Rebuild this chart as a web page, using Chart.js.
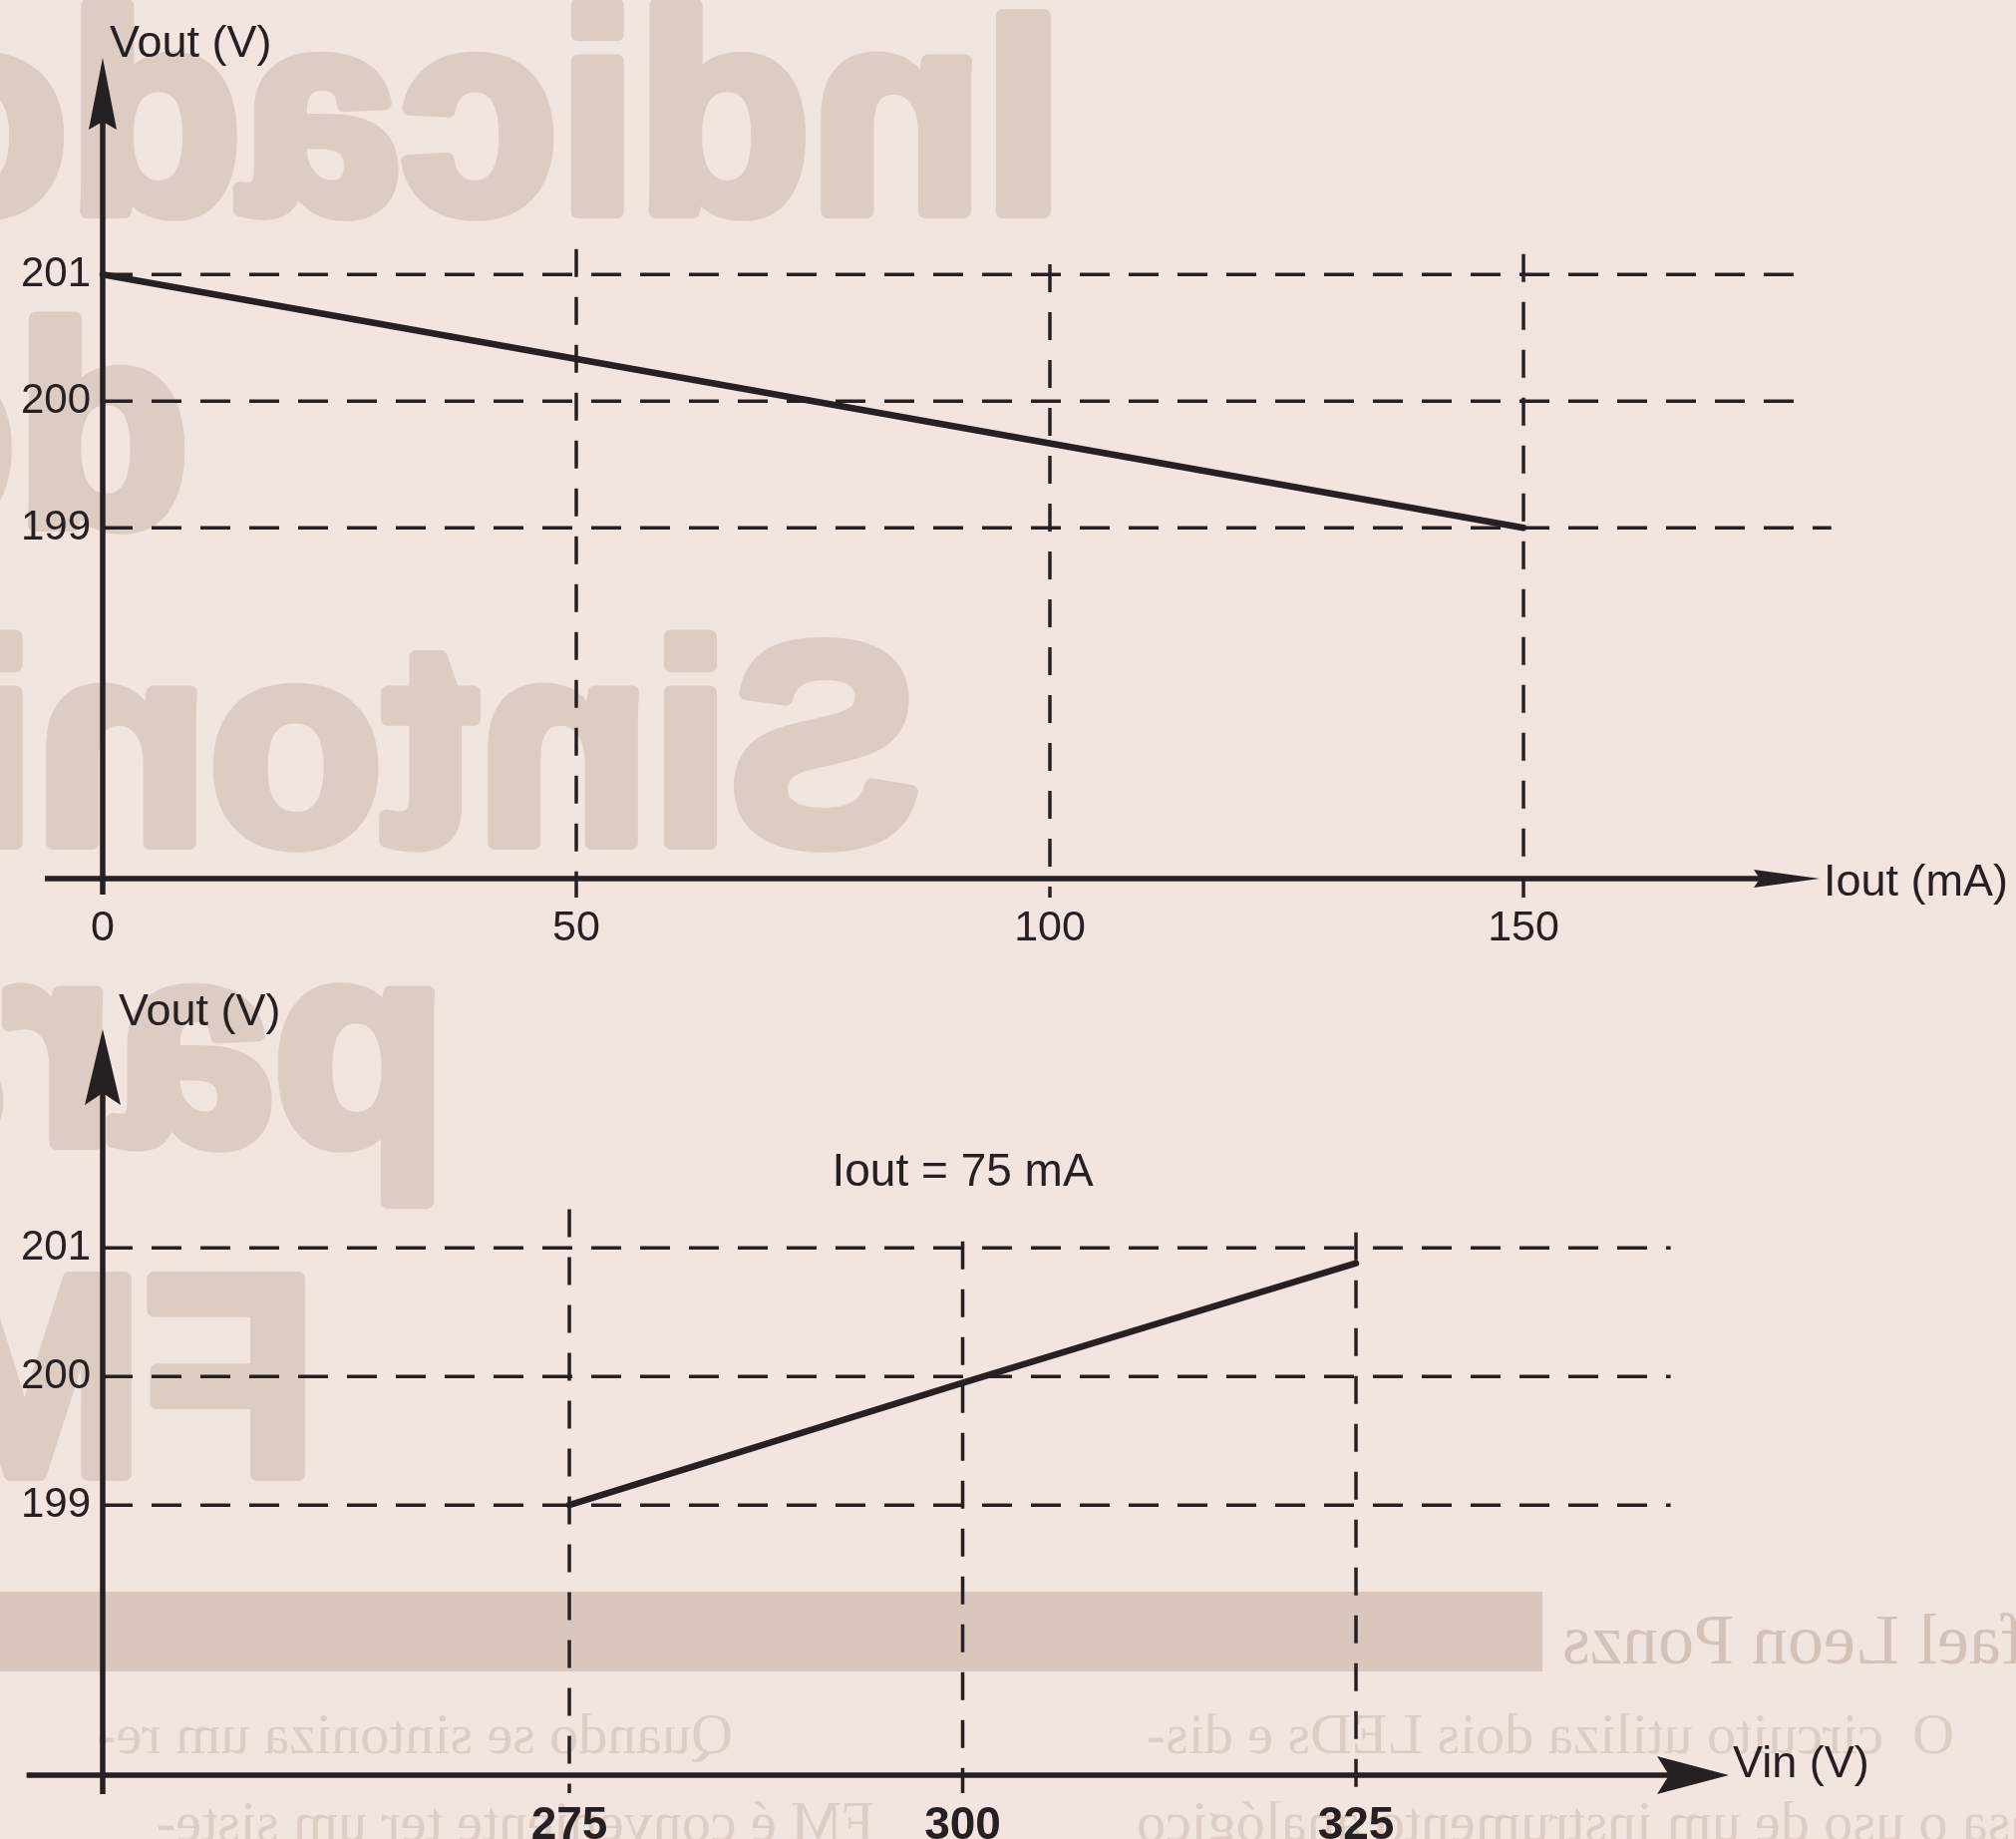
<!DOCTYPE html>
<html>
<head>
<meta charset="utf-8">
<title>Vout x Iout / Vout x Vin</title>
<script src="https://cdn.jsdelivr.net/npm/chart.js@4.4.1/dist/chart.umd.min.js"></script>
<style>
  html, body { margin: 0; padding: 0; }
  body {
    width: 2022px; height: 1844px; overflow: hidden; position: relative;
    background: #f2e4df;
    font-family: "Liberation Sans", Arial, Helvetica, sans-serif;
  }
  #ghost   { position: absolute; left: 0; top: 0; }
  .panel   { position: absolute; left: 0; width: 2022px; }
  #topWrap { top: 0;     height: 960px; }
  #botWrap { top: 960px; height: 884px; }
</style>
</head>
<body>
<canvas id="ghost" width="2022" height="1844"></canvas>
<div class="panel" id="topWrap"><canvas id="topChart"></canvas></div>
<div class="panel" id="botWrap"><canvas id="botChart"></canvas></div>

<script>
/* ── Top graph: Vout against load current ─────────────────── */
const ioutMa     = [0, 150];
const voutLoad   = [201, 199];
const ioutTicks  = [0, 50, 100, 150];
const voutTicksA = [199, 200, 201];

/* ── Bottom graph: Vout against input voltage (Iout = 75 mA) ─ */
const vinV       = [275, 300, 325];
const voutLine   = [199.0, 199.95, 200.88];
const vinTicks   = [275, 300, 325];
const voutTicksB = [199, 200, 201];

const INK  = '#262022';
const FONT = '"Liberation Sans", Arial, Helvetica, sans-serif';

/* ── Paper show-through from the back page (decoration only) ─ */
function drawGhost() {
  const ctx = document.getElementById('ghost').getContext('2d');

  // mirrored word; anchor = screen x of the word's first letter (right side)
  function mirrored(text, anchor, base, font, color, thick, fromEnd) {
    ctx.save();
    ctx.translate(anchor, 0);
    ctx.scale(-1, 1);
    ctx.font = font;
    ctx.fillStyle = color;
    ctx.strokeStyle = color;
    ctx.lineJoin = 'round';
    ctx.textBaseline = 'alphabetic';
    ctx.textAlign = fromEnd ? 'right' : 'left';
    ctx.fillText(text, 0, base);
    if (thick) { ctx.lineWidth = thick; ctx.strokeText(text, 0, base); }
    ctx.restore();
  }

  const big = 'bold 285px "Liberation Sans", Arial, sans-serif';
  const gc  = '#ddccc4';
  mirrored('Indicador', 1066, 212,  big, gc, 14);
  mirrored('de',        190,  526,  big, gc, 14);
  mirrored('Sintonia',  922,  845,  big, gc, 14);
  mirrored('para',      448,  1146, big, gc, 14);
  mirrored('FM',        318,  1478, big, gc, 14);

  // grey band of the byline
  ctx.fillStyle = '#d9c6bd';
  ctx.fillRect(0, 1596, 1547, 80);

  const serif = '72px "Liberation Serif", "DejaVu Serif", serif';
  mirrored('Rafael Leon Ponzs', 1567, 1668, serif, '#d4c1b8', 0, true);

  const body = '58px "Liberation Serif", "DejaVu Serif", serif';
  const bc   = '#ddcdc5';
  mirrored('O  circuito utiliza dois LEDs e dis-',    1960, 1758, body, bc, 0);
  mirrored('Quando se sintoniza um re-',              735,  1758, body, bc, 0);
  mirrored('pensa o uso de um instrumento analógico', 2100, 1846, body, bc, 0);
  mirrored('FM é conveniente ter um siste-',           877,  1846, body, bc, 0);
}

/* ── Arrowhead helper ─────────────────────────────────────── */
function arrowHead(ctx, tx, ty, dir, a) {
  ctx.beginPath();
  if (dir === 'up') {
    ctx.moveTo(tx, ty);
    ctx.lineTo(tx + a.half, ty + a.len);
    ctx.lineTo(tx, ty + a.len - a.notch);
    ctx.lineTo(tx - a.half, ty + a.len);
  } else {
    ctx.moveTo(tx, ty);
    ctx.lineTo(tx - a.len, ty - a.half);
    ctx.lineTo(tx - a.len + a.notch, ty);
    ctx.lineTo(tx - a.len, ty + a.half);
  }
  ctx.closePath();
  ctx.fill();
}

/* ── Axes, ticks and titles drawn through the chart scales ── */
function axesPlugin(g) {
  return {
    id: 'axes_' + g.key,
    afterDatasetsDraw(chart) {
      const { ctx, scales: { x, y } } = chart;
      const ox   = x.getPixelForValue(g.xMin);
      const oy   = y.getPixelForValue(g.yMin);
      const xTip = x.getPixelForValue(g.xMax);
      const yTip = y.getPixelForValue(g.yMax);

      ctx.save();
      ctx.strokeStyle = INK;
      ctx.fillStyle = INK;
      ctx.lineWidth = 5.5;

      // x axis (runs a little left of the origin)
      ctx.beginPath();
      ctx.moveTo(x.getPixelForValue(g.xAxisStart), oy);
      ctx.lineTo(xTip - g.xArrow.len + g.xArrow.notch, oy);
      ctx.stroke();
      arrowHead(ctx, xTip, oy, 'right', g.xArrow);

      // y axis (runs a little below the x axis)
      ctx.beginPath();
      ctx.moveTo(ox, oy + g.yAxisOver);
      ctx.lineTo(ox, yTip + g.yArrow.len - g.yArrow.notch);
      ctx.stroke();
      arrowHead(ctx, ox, yTip, 'up', g.yArrow);

      // y tick labels
      ctx.font = g.yTickFont;
      ctx.textAlign = 'right';
      ctx.textBaseline = 'middle';
      g.yTicks.forEach(v => ctx.fillText(String(v), ox - 12, y.getPixelForValue(v)));

      // x tick labels
      ctx.font = g.xTickFont;
      ctx.textAlign = 'center';
      g.xTicks.forEach(t => ctx.fillText(String(t), x.getPixelForValue(t), oy + g.xTickGap));

      // axis titles
      ctx.font = '45px ' + FONT;
      ctx.textAlign = 'left';
      ctx.fillText(g.yTitle, ox + g.yTitleOff[0], yTip + g.yTitleOff[1]);
      ctx.fillText(g.xTitle, xTip + g.xTitleOff[0], oy + g.xTitleOff[1]);

      // optional note
      if (g.note) {
        ctx.font = '46px ' + FONT;
        ctx.textAlign = 'center';
        ctx.fillText(g.note.text, x.getPixelForValue(g.note.x), y.getPixelForValue(g.note.y));
      }
      ctx.restore();
    }
  };
}

/* ── Build one graph ──────────────────────────────────────── */
function makeGraph(canvasId, g) {
  const dash = { borderColor: INK, borderWidth: 3.5, showLine: true, pointRadius: 0, clip: false, tension: 0 };
  const datasets = [{
    data: g.xs.map((v, i) => ({ x: v, y: g.ys[i] })),
    borderColor: INK, borderWidth: 6.5, showLine: true, pointRadius: 0, clip: false, tension: 0,
    borderCapStyle: 'round'
  }];

  /* horizontal dashed guides at each y tick */
  g.yTicks.forEach((v, i) => datasets.push(Object.assign({
    data: [{ x: g.xMin, y: v }, { x: g.hGuideEnd[i], y: v }],
    borderDash: [30, 19]
  }, dash)));

  /* vertical dashed guides at each x tick (not on the y axis) */
  g.xTicks.forEach((t, i) => {
    if (t === g.xMin) return;
    datasets.push(Object.assign({
      data: [{ x: t, y: g.vGuideTop[i] }, { x: t, y: g.vGuideBottom }],
      borderDash: [28, 20]
    }, dash));
  });

  return new Chart(document.getElementById(canvasId), {
    type: 'scatter',
    data: { datasets },
    options: {
      responsive: true,
      maintainAspectRatio: false,
      animation: false,
      events: [],
      layout: { padding: g.padding },
      plugins: { legend: { display: false }, tooltip: { enabled: false } },
      scales: {
        x: { type: 'linear', min: g.xMin, max: g.xMax, display: false },
        y: { type: 'linear', min: g.yMin, max: g.yMax, display: false }
      }
    },
    plugins: [axesPlugin(g)]
  });
}

drawGhost();

makeGraph('topChart', {
  key: 'top',
  xs: ioutMa, ys: voutLoad,
  xTicks: ioutTicks, yTicks: voutTicksA,
  xMin: 0, xMax: 181.26, yMin: 196.23, yMax: 202.71,
  padding: { left: 103, right: 197, top: 58, bottom: 79 },
  xAxisStart: -6.1, yAxisOver: 16,
  hGuideEnd: [182.5, 179.2, 179.2],
  vGuideTop: [null, 201.2, 201.08, 201.16], vGuideBottom: 196.08,
  xArrow: { len: 66, half: 9, notch: 6 },
  yArrow: { len: 72, half: 14, notch: 8 },
  yTickFont: '42px ' + FONT, xTickFont: '43px ' + FONT, xTickGap: 50,
  yTitle: 'Vout (V)', yTitleOff: [7, -13],
  xTitle: 'Iout (mA)', xTitleOff: [4, 5]
});

makeGraph('botChart', {
  key: 'bot',
  xs: vinV, ys: voutLine,
  xTicks: vinTicks, yTicks: voutTicksB,
  xMin: 245.34, xMax: 348.7, yMin: 196.90, yMax: 202.70,
  padding: { left: 103, right: 288, top: 72, bottom: 64 },
  xAxisStart: 240.5, yAxisOver: 19,
  hGuideEnd: [345.0, 345.0, 345.0],
  vGuideTop: [201.3, 201.05, 201.12], vGuideBottom: 196.76,
  xArrow: { len: 72, half: 19, notch: 12 },
  yArrow: { len: 76, half: 18, notch: 12 },
  yTickFont: '42px ' + FONT, xTickFont: 'bold 46px ' + FONT, xTickGap: 51,
  yTitle: 'Vout (V)', yTitleOff: [16, -16],
  xTitle: 'Vin (V)', xTitleOff: [4, -10],
  note: { text: 'Iout = 75 mA', x: 300, y: 201.58 }
});
</script>
</body>
</html>
